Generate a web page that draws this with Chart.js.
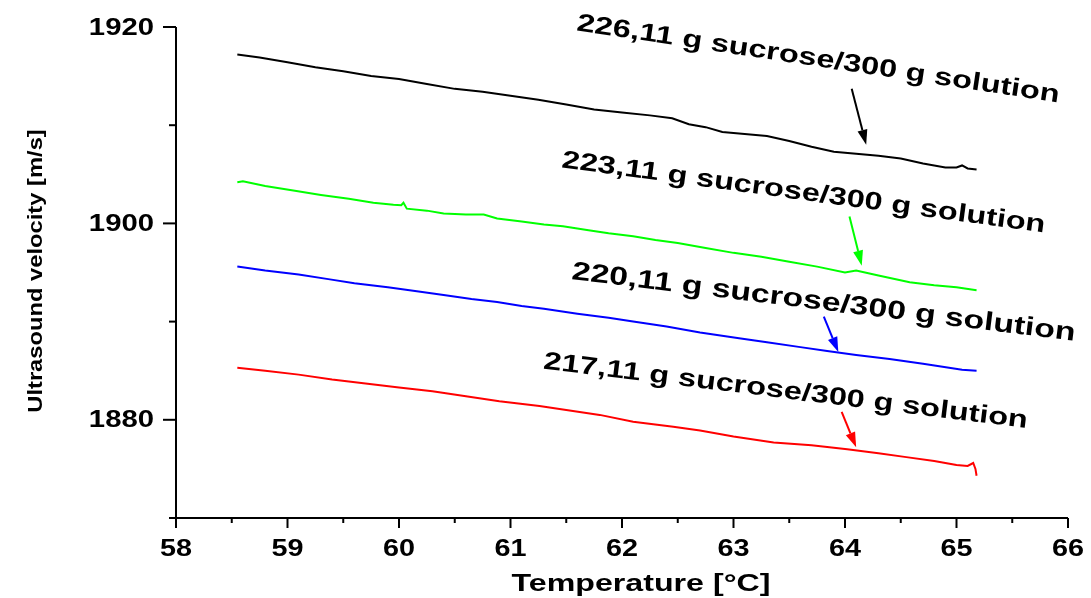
<!DOCTYPE html>
<html>
<head>
<meta charset="utf-8">
<script src="https://cdn.jsdelivr.net/npm/chart.js@4"></script>
<style>
  html, body { margin: 0; padding: 0; background: #fff; }
  #box { width: 1091px; height: 598px; }
</style>
</head>
<body>
<div id="box"><canvas id="graph"></canvas></div>
<script>
// Relevés : température (°C) et vitesse ultrasonore (m/s)
const tempNoir = [58.55, 58.75, 59.0, 59.25, 59.5, 59.75, 60.0, 60.25, 60.5, 60.75, 61.0, 61.25, 61.5, 61.75, 62.0, 62.25, 62.45, 62.6, 62.75, 62.9, 63.1, 63.3, 63.5, 63.7, 63.9, 64.1, 64.3, 64.5, 64.7, 64.9, 65.0, 65.05, 65.1, 65.18];
const vitNoir  = [1917.2, 1916.9, 1916.4, 1915.9, 1915.5, 1915.0, 1914.7, 1914.2, 1913.7, 1913.4, 1913.0, 1912.6, 1912.1, 1911.6, 1911.3, 1911.0, 1910.7, 1910.1, 1909.8, 1909.3, 1909.1, 1908.9, 1908.4, 1907.8, 1907.3, 1907.1, 1906.9, 1906.6, 1906.1, 1905.7, 1905.7, 1905.9, 1905.6, 1905.5];

const tempVert = [58.55, 58.6, 58.8, 59.08, 59.3, 59.55, 59.77, 59.95, 60.02, 60.04, 60.07, 60.25, 60.4, 60.6, 60.76, 60.88, 61.1, 61.3, 61.47, 61.7, 61.88, 62.1, 62.3, 62.5, 62.75, 63.0, 63.25, 63.5, 63.75, 64.0, 64.1, 64.3, 64.58, 64.8, 65.0, 65.18];
const vitVert  = [1904.2, 1904.3, 1903.8, 1903.3, 1902.9, 1902.5, 1902.1, 1901.9, 1901.85, 1902.1, 1901.5, 1901.3, 1901.0, 1900.9, 1900.9, 1900.5, 1900.2, 1899.9, 1899.7, 1899.3, 1899.0, 1898.7, 1898.3, 1898.0, 1897.5, 1897.0, 1896.6, 1896.1, 1895.6, 1895.0, 1895.2, 1894.7, 1894.0, 1893.7, 1893.5, 1893.2];

const tempBleu = [58.55, 58.8, 59.1, 59.38, 59.6, 59.9, 60.16, 60.4, 60.65, 60.88, 61.1, 61.3, 61.6, 61.88, 62.1, 62.4, 62.7, 63.05, 63.3, 63.6, 63.84, 64.1, 64.4, 64.7, 65.05, 65.18];
const vitBleu  = [1895.6, 1895.2, 1894.8, 1894.3, 1893.9, 1893.5, 1893.1, 1892.7, 1892.3, 1892.0, 1891.6, 1891.3, 1890.8, 1890.4, 1890.0, 1889.5, 1888.9, 1888.3, 1887.9, 1887.4, 1887.0, 1886.6, 1886.2, 1885.7, 1885.1, 1885.0];

const tempRouge = [58.55, 58.8, 59.1, 59.4, 59.7, 60.0, 60.3, 60.6, 60.9, 61.26, 61.5, 61.8, 62.1, 62.46, 62.7, 63.0, 63.36, 63.7, 64.02, 64.3, 64.55, 64.8, 65.0, 65.1, 65.15, 65.17, 65.18];
const vitRouge  = [1885.3, 1885.0, 1884.6, 1884.1, 1883.7, 1883.3, 1882.9, 1882.4, 1881.9, 1881.4, 1881.0, 1880.5, 1879.8, 1879.3, 1878.9, 1878.3, 1877.7, 1877.4, 1877.0, 1876.6, 1876.2, 1875.8, 1875.4, 1875.3, 1875.6, 1875.0, 1874.3];

const etiquettes = [
  '226,11 g sucrose/300 g solution',
  '223,11 g sucrose/300 g solution',
  '220,11 g sucrose/300 g solution',
  '217,11 g sucrose/300 g solution'
];
const couleurs = ['#000000', '#00ff00', '#0000ff', '#ff0000'];

// Position des étiquettes et flèches, en unités des axes (T, v)
const annotations = [
  { texte: etiquettes[0], couleur: couleurs[0], t: 63.75, v: 1916.0, angle: 8.5, taille: 25, fleche: [64.06, 1913.7, 64.19, 1908.0] },
  { texte: etiquettes[1], couleur: couleurs[1], t: 63.62, v: 1902.4, angle: 7.7, taille: 25, fleche: [64.04, 1900.7, 64.15, 1895.7] },
  { texte: etiquettes[2], couleur: couleurs[2], t: 63.80, v: 1891.2, angle: 7.0, taille: 26, fleche: [63.81, 1890.5, 63.94, 1886.9] },
  { texte: etiquettes[3], couleur: couleurs[3], t: 63.46, v: 1882.2, angle: 7.0, taille: 25, fleche: [63.97, 1880.8, 64.10, 1877.2] }
];

const POLICE = '"Liberation Sans", Arial, sans-serif';

function points(temps, vits) {
  return temps.map((t, i) => ({ x: t, y: vits[i] }));
}

// Texte étiré le long de sa ligne de base, comme sur la figure d'origine
function texte(ctx, s, x, y, angleRad, etirement, taille, align, base) {
  ctx.save();
  ctx.translate(x, y);
  ctx.rotate(angleRad);
  ctx.scale(etirement, 1);
  ctx.font = 'bold ' + taille + 'px ' + POLICE;
  ctx.textAlign = align;
  ctx.textBaseline = base;
  ctx.fillText(s, 0, 0);
  ctx.restore();
}

function fleche(ctx, x0, y0, x1, y1, couleur) {
  const ang = Math.atan2(y1 - y0, x1 - x0);
  const longueur = 15, demi = 5;
  const bx = x1 - longueur * Math.cos(ang), by = y1 - longueur * Math.sin(ang);
  ctx.strokeStyle = couleur;
  ctx.fillStyle = couleur;
  ctx.lineWidth = 2;
  ctx.beginPath();
  ctx.moveTo(x0, y0);
  ctx.lineTo(bx, by);
  ctx.stroke();
  ctx.beginPath();
  ctx.moveTo(x1, y1);
  ctx.lineTo(bx + demi * Math.sin(ang), by - demi * Math.cos(ang));
  ctx.lineTo(bx - demi * Math.sin(ang), by + demi * Math.cos(ang));
  ctx.closePath();
  ctx.fill();
}

// Axes, graduations, titres et annotations dessinés à la main
const habillage = {
  id: 'habillage',
  afterDraw(chart) {
    const ctx = chart.ctx;
    const sx = chart.scales.x, sy = chart.scales.y;
    const zone = chart.chartArea;
    ctx.save();
    ctx.strokeStyle = '#000';
    ctx.fillStyle = '#000';
    ctx.lineWidth = 2;
    ctx.beginPath();
    ctx.moveTo(zone.left, zone.top);
    ctx.lineTo(zone.left, zone.bottom);
    ctx.lineTo(zone.right, zone.bottom);
    ctx.stroke();

    sy.ticks.forEach(tk => {
      const y = sy.getPixelForValue(tk.value);
      const majeur = Math.round(tk.value) % 20 === 0;
      ctx.beginPath();
      ctx.moveTo(zone.left - (majeur ? 13 : 7), y);
      ctx.lineTo(zone.left, y);
      ctx.stroke();
      if (majeur) texte(ctx, String(Math.round(tk.value)), 154, y + 1, 0, 1.22, 24, 'right', 'middle');
    });

    sx.ticks.forEach(tk => {
      const x = sx.getPixelForValue(tk.value);
      const majeur = Math.abs(tk.value - Math.round(tk.value)) < 1e-6;
      ctx.beginPath();
      ctx.moveTo(x, zone.bottom);
      ctx.lineTo(x, zone.bottom + (majeur ? 10 : 5));
      ctx.stroke();
      if (majeur) texte(ctx, String(Math.round(tk.value)), x, 556, 0, 1.2, 24, 'center', 'alphabetic');
    });

    texte(ctx, 'Temperature [°C]', 641, 591, 0, 1.34, 24, 'center', 'alphabetic');
    texte(ctx, 'Ultrasound velocity [m/s]', 36, 271, -Math.PI / 2, 1.13, 21, 'center', 'middle');

    annotations.forEach(a => {
      ctx.fillStyle = '#000';
      texte(ctx, a.texte, sx.getPixelForValue(a.t), sy.getPixelForValue(a.v),
        a.angle * Math.PI / 180, 1.3, a.taille, 'center', 'alphabetic');
      const f = a.fleche;
      fleche(ctx, sx.getPixelForValue(f[0]), sy.getPixelForValue(f[1]),
        sx.getPixelForValue(f[2]), sy.getPixelForValue(f[3]), a.couleur);
    });
    ctx.restore();
  }
};

const series = [[tempNoir, vitNoir], [tempVert, vitVert], [tempBleu, vitBleu], [tempRouge, vitRouge]];

new Chart(document.getElementById('graph'), {
  type: 'line',
  data: {
    datasets: series.map((s, i) => ({
      label: etiquettes[i],
      data: points(s[0], s[1]),
      borderColor: couleurs[i],
      borderWidth: 2,
      pointRadius: 0,
      tension: 0,
      fill: false
    }))
  },
  options: {
    responsive: true,
    maintainAspectRatio: false,
    animation: false,
    layout: { padding: { top: 27, right: 23, left: 0, bottom: 0 } },
    plugins: { legend: { display: false }, tooltip: { enabled: false } },
    scales: {
      x: {
        type: 'linear', min: 58, max: 66,
        ticks: { display: false, stepSize: 0.5 },
        grid: { display: false }, border: { display: false },
        afterFit: s => { s.height = 80; }
      },
      y: {
        type: 'linear', min: 1870, max: 1920,
        ticks: { display: false, stepSize: 10 },
        grid: { display: false }, border: { display: false },
        afterFit: s => { s.width = 176; }
      }
    }
  },
  plugins: [habillage]
});
</script>
</body>
</html>
